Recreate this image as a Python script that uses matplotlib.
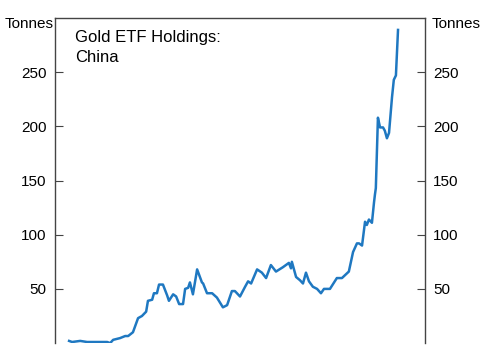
import matplotlib.pyplot as plt

plt.rcParams['font.family'] = ['Liberation Sans', 'DejaVu Sans']

# Gold ETF holdings, China (tonnes)
years = [2013.00, 2013.10, 2013.37, 2013.60, 2014.27, 2014.37, 2014.47, 2014.70,
         2014.87, 2014.97, 2015.13, 2015.30, 2015.43, 2015.57, 2015.63, 2015.77,
         2015.83, 2015.93, 2016.00, 2016.13, 2016.27, 2016.33, 2016.47, 2016.57,
         2016.67, 2016.80, 2016.87, 2016.97, 2017.03, 2017.13, 2017.27, 2017.43,
         2017.47, 2017.60, 2017.77, 2017.93, 2018.13, 2018.27, 2018.43, 2018.53,
         2018.70, 2018.87, 2018.97, 2019.07, 2019.27, 2019.43, 2019.57, 2019.73,
         2019.90, 2020.13, 2020.33, 2020.40, 2020.43, 2020.57, 2020.70, 2020.80,
         2020.90, 2021.00, 2021.13, 2021.27, 2021.40, 2021.50, 2021.70, 2021.93,
         2022.10, 2022.33, 2022.47, 2022.60, 2022.67, 2022.77, 2022.87, 2022.93,
         2023.00, 2023.10, 2023.17, 2023.20, 2023.23, 2023.30, 2023.37, 2023.47,
         2023.53, 2023.60, 2023.67, 2023.77, 2023.83, 2023.90, 2023.97]
holdings = [2, 1, 2, 1, 1, 0, 3, 4.6,
            6.5, 6.5, 10, 23, 25, 29, 39, 40,
            46, 46, 54, 54, 44, 39, 45, 43,
            36, 36, 50, 51, 56, 45, 68, 56,
            55, 46, 46, 42, 33, 35, 48, 48,
            43, 52, 57, 55, 68, 65, 60, 72,
            66, 70, 74, 69, 75, 61, 58, 55,
            65, 57, 52, 50, 46, 50, 50, 60,
            60, 66, 84, 92, 92, 90, 112, 109,
            114, 111, 130, 137, 143, 208, 199, 199,
            196, 189, 194, 227, 243, 247, 289]

y_ticks = [50, 100, 150, 200, 250]

fig = plt.figure(figsize=(4.85, 3.6), dpi=100)
ax = fig.add_axes([0.1134, 0.047, 0.7629, 0.903])

ax.plot(years, holdings, color='#1f78c1', linewidth=1.8, solid_joinstyle='round')

ax.set_xlim(2012.53, 2024.87)
ax.set_ylim(0, 300)
ax.set_xticks([])
ax.set_yticks(y_ticks)
ax.tick_params(axis='y', direction='in', length=6, width=0.8, color='#444444',
               labelsize=11, pad=6, left=True, right=True,
               labelleft=True, labelright=True)

for side in ['left', 'right', 'top']:
    ax.spines[side].set_color('#444444')
    ax.spines[side].set_linewidth(1.0)
ax.spines['bottom'].set_visible(False)

ax.text(-0.005, 0.982, 'Tonnes', transform=ax.transAxes, ha='right', va='center', fontsize=11)
ax.text(1.018, 0.982, 'Tonnes', transform=ax.transAxes, ha='left', va='center', fontsize=11)
ax.text(0.054, 0.962, 'Gold ETF Holdings:\nChina', transform=ax.transAxes,
        ha='left', va='top', fontsize=12, linespacing=1.4)

fig.savefig('out.png', dpi=100)
